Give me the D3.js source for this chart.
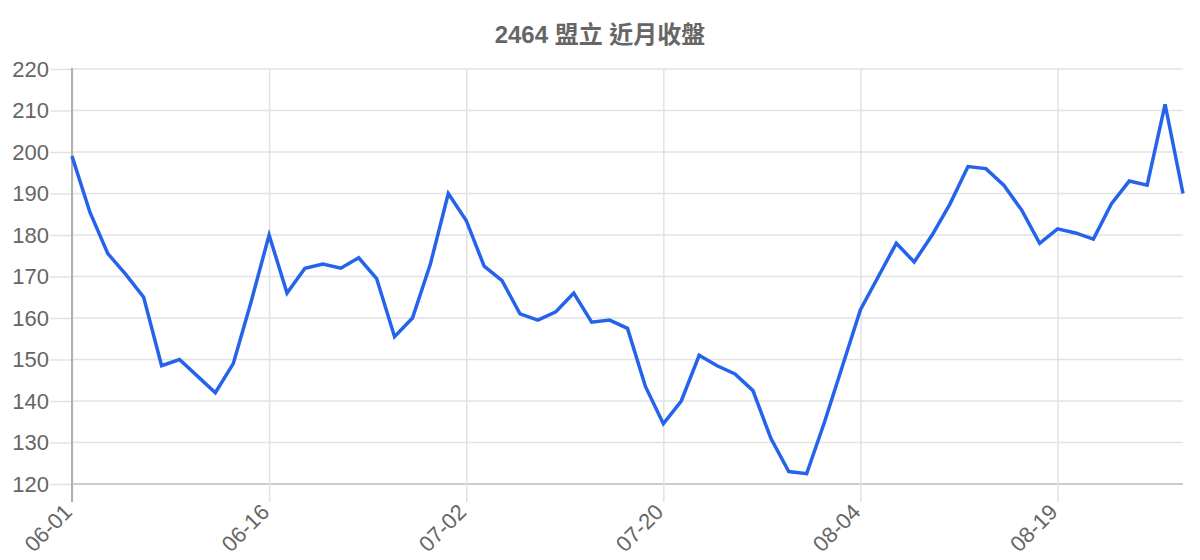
<!DOCTYPE html>
<html>
<head>
<meta charset="utf-8">
<script src="https://cdn.jsdelivr.net/npm/d3@7"></script>
<style>
	html, body { margin: 0; padding: 0; background: #fff; }
	svg { display: block; }
	.title { font: bold 24px "Liberation Sans", Arial, "Noto Sans CJK TC", sans-serif; fill: #666; }
	.ylab { font: 22px "Liberation Sans", Arial, sans-serif; fill: #666; }
	.xlab { font: 22px "Liberation Sans", Arial, sans-serif; fill: #666; }
</style>
</head>
<body>
<div id="chart"></div>
<script>
// 2464 盟立 closing prices
var dates = [
	"06-01","06-02","06-03","06-04","06-05","06-08","06-09","06-10","06-11","06-12","06-15","06-16",
	"06-17","06-18","06-19","06-20","06-22","06-23","06-24","06-29","06-30","07-01","07-02",
	"07-03","07-06","07-07","07-08","07-09","07-10","07-13","07-14","07-15","07-17","07-20",
	"07-21","07-22","07-23","07-24","07-27","07-28","07-29","07-30","07-31","08-03","08-04",
	"08-05","08-06","08-07","08-10","08-11","08-12","08-13","08-14","08-17","08-18","08-19",
	"08-20","08-21","08-24","08-25","08-26","08-27","08-28"
];
var closes = [
	199, 185.5, 175.5, 170.5, 165, 148.5, 150, 146, 142, 149, 164, 180,
	166, 172, 173, 172, 174.5, 169.5, 155.5, 160, 173, 190, 183.5,
	172.5, 169, 161, 159.5, 161.5, 166, 159, 159.5, 157.5, 143.5, 134.5,
	140, 151, 148.5, 146.5, 142.5, 131, 123, 122.5, 135, 148.5, 162,
	170, 178, 173.5, 180, 187.5, 196.5, 196, 192, 186, 178, 181.5,
	180.5, 179, 187.5, 193, 192, 211.5, 190
];
var xTickLabels = ["06-01", "06-16", "07-02", "07-20", "08-04", "08-19"];
var yTicks = [120, 130, 140, 150, 160, 170, 180, 190, 200, 210, 220];

var width = 1200, height = 560;
var plotLeft = 72, plotRight = 1183, plotTop = 69, plotBottom = 484;

var svg = d3.select("#chart").append("svg")
	.attr("width", width)
	.attr("height", height);

var x = d3.scalePoint()
	.domain(dates)
	.range([plotLeft, plotRight]);

var y = d3.scaleLinear()
	.domain([120, 220])
	.range([plotBottom, plotTop]);

svg.append("text")
	.attr("class", "title")
	.attr("x", width / 2)
	.attr("y", 43)
	.attr("text-anchor", "middle")
	.text("2464 盟立 近月收盤");

// horizontal grid + y labels
var yAxis = d3.axisLeft(y)
	.tickValues(yTicks)
	.tickSize(plotLeft - 50)
	.tickPadding(1);
var gy = svg.append("g")
	.attr("transform", "translate(" + plotLeft + ",0)")
	.call(yAxis);
gy.select(".domain").remove();
gy.selectAll("line").attr("stroke", "#e2e2e2").attr("stroke-width", 1.5);
gy.selectAll("text").attr("class", "ylab").attr("fill", null);
svg.selectAll(".hgrid")
	.data(yTicks)
	.enter().append("line")
	.attr("class", "hgrid")
	.attr("x1", plotLeft).attr("x2", plotRight)
	.attr("y1", function(d) { return y(d); })
	.attr("y2", function(d) { return y(d); })
	.attr("stroke", function(d) { return d === 120 ? "#cccccc" : "#e2e2e2"; })
	.attr("stroke-width", function(d) { return d === 120 ? 2 : 1.5; });

// vertical grid at shown dates
var xAxis = d3.axisBottom(x)
	.tickValues(xTickLabels)
	.tickSize(plotBottom - plotTop + 18)
	.tickFormat("");
var gx = svg.append("g")
	.attr("transform", "translate(0," + plotTop + ")")
	.call(xAxis);
gx.select(".domain").remove();
gx.selectAll("line").attr("stroke", "#e2e2e2").attr("stroke-width", 1.5);

svg.append("line")
	.attr("x1", plotLeft).attr("x2", plotLeft)
	.attr("y1", plotTop - 1).attr("y2", plotBottom + 18)
	.attr("stroke", "#b0b0b0")
	.attr("stroke-width", 2);

svg.selectAll(".xlab")
	.data(xTickLabels)
	.enter().append("text")
	.attr("class", "xlab")
	.attr("text-anchor", "end")
	.attr("dy", "0.35em")
	.attr("transform", function(d) {
		return "translate(" + (x(d) - 4) + "," + (plotBottom + 24) + ") rotate(-45)";
	})
	.text(function(d) { return d; });

var line = d3.line()
	.x(function(d, i) { return x(dates[i]); })
	.y(function(d) { return y(d); });

svg.append("path")
	.datum(closes)
	.attr("fill", "none")
	.attr("stroke", "#2563eb")
	.attr("stroke-width", 3.5)
	.attr("stroke-linejoin", "miter")
	.attr("d", line);
</script>
</body>
</html>
